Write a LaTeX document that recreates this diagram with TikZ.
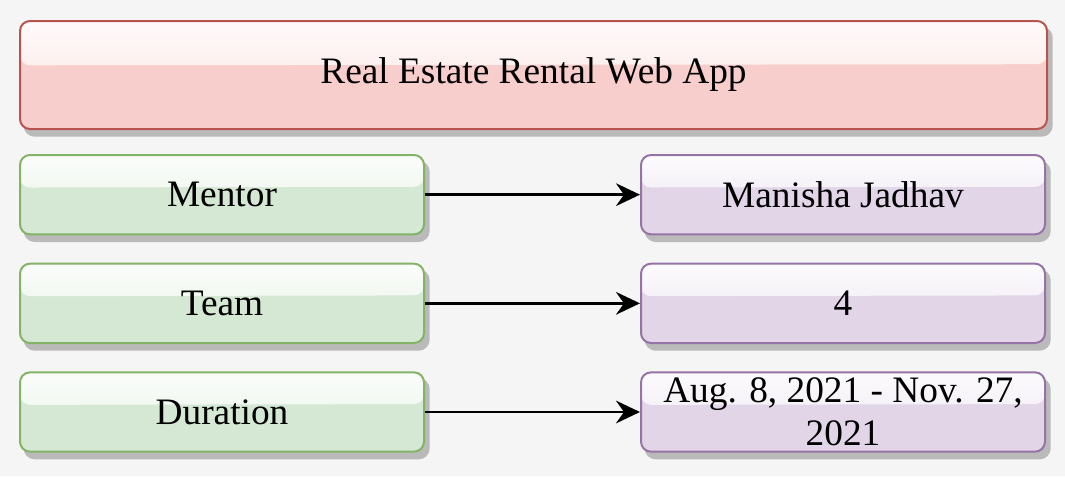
\documentclass[tikz,border=0pt]{standalone}
\usepackage{fontspec}
\setmainfont{Liberation Serif}
\usetikzlibrary{positioning}
\usetikzlibrary{arrows.meta}
\usetikzlibrary{calc}
\definecolor{pagebg}{HTML}{F5F5F5}
\definecolor{redfill}{HTML}{F8CECC}
\definecolor{redline}{HTML}{B85450}
\definecolor{greenfill}{HTML}{D5E8D4}
\definecolor{greenline}{HTML}{82B366}
\definecolor{purplefill}{HTML}{E1D5E7}
\definecolor{purpleline}{HTML}{9673A6}
\definecolor{shadowgray}{HTML}{BABABA}
\tikzset{node distance=20.5pt and 161.25pt, % Gaps between the boxes
      box/.style={ % Sets the properties for each box, #1 is the fill
      rounded corners=7.5pt,
      line width=1.5pt,
      minimum width=303pt,
      minimum height=59.5pt,
      align=center,
      font=\fontsize{28}{32}\selectfont,
      fill=#1,
      preaction={draw=shadowgray, fill=shadowgray, transform canvas={xshift=3.5pt, yshift=-5pt}},
      path picture={ % Glossy top part
            \shade[top color=white!90!#1, bottom color=white!40!#1]
            (path picture bounding box.north west) -- (path picture bounding box.north east)
            -- ($(path picture bounding box.north east)!0.4!(path picture bounding box.south east)$)
            -- ($(path picture bounding box.north west)!0.41!(path picture bounding box.south west)$) -- cycle;}},
      headbox/.style={box=redfill, draw=redline},
      keybox/.style={box=greenfill, draw=greenline},
      valbox/.style={box=purplefill, draw=purpleline},
      link/.style={ % Sets the properties for each arrow
      draw,
      -{Stealth[length=18pt, width=17pt, inset=6pt]},
      line width=2pt}}

\begin{document}
\begin{tikzpicture}
      \fill[pagebg] (0,0) rectangle (798.75pt,-357pt);
      \useasboundingbox (0,0) rectangle (798.75pt,-357pt);
      \node[headbox, anchor=north west, minimum width=770.25pt, minimum height=81pt] (title) at (14.25pt,-15pt) {Real Estate Rental Web App};
      \node[keybox, below=18pt of title.south west, anchor=north west] (mentor) {Mentor};
      \node[keybox, below=of mentor] (team) {Team};
      \node[keybox, below=of team] (duration) {Duration};
      \node[valbox, right=of mentor] (name) {Manisha Jadhav};
      \node[valbox, right=of team] (size) {4};
      \node[valbox, right=of duration] (dates) {Aug. 8, 2021 - Nov. 27,\\ 2021};
      \draw[link] (mentor) -- (name);
      \draw[link] (team) -- (size);
      \draw[link] (duration) -- (dates);
\end{tikzpicture}
\end{document}
